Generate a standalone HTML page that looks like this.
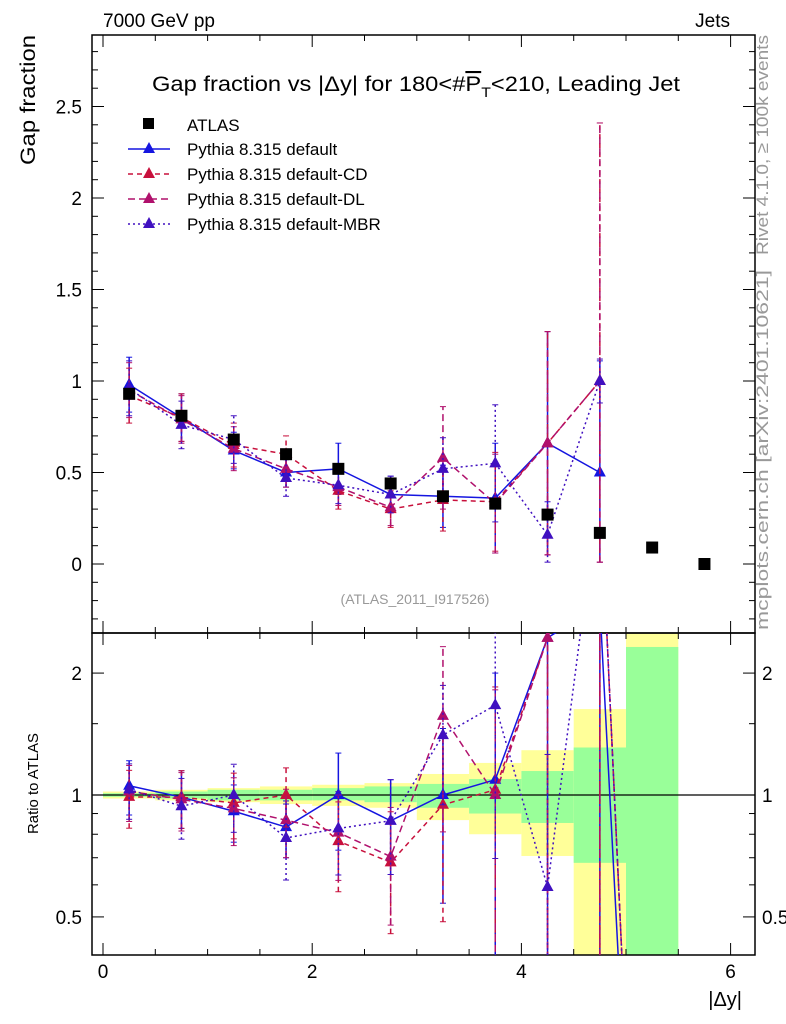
<!DOCTYPE html>
<html><head><meta charset="utf-8"><style>
html,body{margin:0;padding:0;background:#fff;overflow:hidden;width:786px;height:1024px;}
svg{font-family:"Liberation Sans",sans-serif;display:block;}
</style></head><body>
<svg id="c" width="786" height="1024" xmlns="http://www.w3.org/2000/svg">
<defs>
<clipPath id="cm"><rect x="92" y="35" width="663" height="598"/></clipPath>
<clipPath id="cr"><rect x="92" y="633" width="663" height="322"/></clipPath>
</defs>
<g id="bands" clip-path="url(#cr)"></g>
<g id="frames"></g>
<g id="series-main" clip-path="url(#cm)"></g>
<g id="series-ratio" clip-path="url(#cr)"></g>
<text x="103" y="27" font-size="19">7000 GeV pp</text>
<text x="730" y="27" font-size="19" text-anchor="end">Jets</text>
<text x="152" y="91" font-size="21" textLength="528" lengthAdjust="spacingAndGlyphs">Gap fraction vs |Δy| for 180&lt;#<tspan text-decoration="overline">P</tspan><tspan font-size="14" dy="6">T</tspan><tspan dy="-6">&lt;210, Leading Jet</tspan></text>
<text x="415" y="604" font-size="14" fill="#999" text-anchor="middle">(ATLAS_2011_I917526)</text>
<text transform="translate(35,165) rotate(-90)" font-size="21" textLength="130" lengthAdjust="spacingAndGlyphs">Gap fraction</text>
<text transform="translate(38,834) rotate(-90)" font-size="15" textLength="101" lengthAdjust="spacingAndGlyphs">Ratio to ATLAS</text>
<text x="742" y="1006" font-size="20" text-anchor="end">|Δy|</text>
<text transform="translate(768,255) rotate(-90)" font-size="17" fill="#999" textLength="220" lengthAdjust="spacingAndGlyphs">Rivet 4.1.0, ≥ 100k events</text>
<text transform="translate(768,630) rotate(-90)" font-size="17" fill="#999" textLength="360" lengthAdjust="spacingAndGlyphs">mcplots.cern.ch [arXiv:2401.10621]</text>
<g id="legend"></g>
</svg>
<script>
const xCenters=[0.25,0.75,1.25,1.75,2.25,2.75,3.25,3.75,4.25,4.75,5.25,5.75];
const atlasVals=[0.93,0.81,0.68,0.60,0.52,0.44,0.37,0.33,0.27,0.17,0.09,0.00];
const defVals=[0.98,0.80,0.62,0.50,0.52,0.38,0.37,0.36,0.66,0.50];
const defErr=[0.15,0.13,0.10,0.08,0.14,0.10,0.17,0.30,0.61,0.61];
const cdVals=[0.92,0.80,0.65,0.60,0.40,0.30,0.35,0.34,0.66,1.00];
const cdErr=[0.15,0.13,0.12,0.10,0.10,0.10,0.17,0.27,0.61,1.41];
const dlVals=[0.95,0.79,0.63,0.52,0.42,0.31,0.58,0.33,0.66,1.00];
const dlErr=[0.15,0.13,0.12,0.10,0.10,0.10,0.28,0.27,0.61,1.41];
const mbrVals=[0.96,0.76,0.68,0.47,0.43,0.38,0.52,0.55,0.16,1.00];
const mbrErr=[0.15,0.13,0.13,0.10,0.10,0.10,0.17,0.32,0.18,0.12];
const binEdges=[0,0.5,1,1.5,2,2.5,3,3.5,4,4.5,5,5.5];
const greenLo=[0.99,0.98,0.97,0.97,0.97,0.96,0.93,0.90,0.853,0.68,0.1];
const greenHi=[1.01,1.02,1.03,1.03,1.04,1.05,1.065,1.095,1.146,1.31,2.32];
const yellowLo=[0.98,0.97,0.96,0.95,0.94,0.93,0.867,0.80,0.707,0.1,0.1];
const yellowHi=[1.02,1.03,1.04,1.05,1.06,1.07,1.127,1.20,1.29,1.63,3.0];
const mainTicks=[0,0.5,1,1.5,2,2.5];
const ratioTicks=[0.5,1,2];
const xTicks=[0,2,4,6];

const NS="http://www.w3.org/2000/svg";
const X=v=>103+v*104.6;
const YM=v=>564-v*183;
const YR=v=>795-Math.log10(v)*405;
function mk(p,tag,at){const e=document.createElementNS(NS,tag);for(const k in at)e.setAttribute(k,at[k]);p.appendChild(e);return e;}
const bands=document.getElementById('bands');
for(let i=0;i<greenLo.length;i++){
 const x0=X(binEdges[i]),x1=X(binEdges[i+1]);
 let r=mk(bands,'rect',{x:x0,y:YR(yellowHi[i]),width:x1-x0,height:YR(yellowLo[i])-YR(yellowHi[i]),fill:'#ffff99'});
 
 
 r=mk(bands,'rect',{x:x0,y:YR(greenHi[i]),width:x1-x0,height:YR(greenLo[i])-YR(greenHi[i]),fill:'#99ff99'});
 
 
}
const fr=document.getElementById('frames');
mk(fr,'line',{x1:92,x2:755,y1:YR(1),y2:YR(1),stroke:'#000','stroke-width':1.2});
mk(fr,'rect',{x:92,y:35,width:663,height:598,fill:'none',stroke:'#000','stroke-width':1.5});
mk(fr,'rect',{x:92,y:633,width:663,height:322,fill:'none',stroke:'#000','stroke-width':1.5});
for(let v=0;v<=6.01;v+=0.5){const maj=Math.abs(v%2)<0.01;const L=maj?12:6;
 for(const [t,b] of [[35,633],[633,955]]){mk(fr,'line',{x1:X(v),x2:X(v),y1:b,y2:b-L,stroke:'#000'});mk(fr,'line',{x1:X(v),x2:X(v),y1:t,y2:t+L,stroke:'#000'});}}
xTicks.forEach(v=>{const t=mk(fr,'text',{x:X(v),y:978,'font-size':19,'text-anchor':'middle'});t.textContent=v;
 
 });
for(let k=-3;k<=28;k++){const v=k/10;const maj=k%5===0;const L=maj?12:6;const y=YM(v);
 mk(fr,'line',{x1:92,x2:92+L,y1:y,y2:y,stroke:'#000'});mk(fr,'line',{x1:755,x2:755-L,y1:y,y2:y,stroke:'#000'});}
mainTicks.forEach(v=>{const t=mk(fr,'text',{x:82,y:YM(v)+7,'font-size':19,'text-anchor':'end'});t.textContent=v;
 
 });
[0.5,0.6,0.7,0.8,0.9,1,1.5,2].forEach(v=>{const maj=ratioTicks.includes(v);const L=maj?12:6;const y=YR(v);
 mk(fr,'line',{x1:92,x2:92+L,y1:y,y2:y,stroke:'#000'});mk(fr,'line',{x1:755,x2:755-L,y1:y,y2:y,stroke:'#000'});});
ratioTicks.forEach(v=>{let t=mk(fr,'text',{x:82,y:YR(v)+7,'font-size':19,'text-anchor':'end'});t.textContent=v;
 
 
 t=mk(fr,'text',{x:762,y:YR(v)+7,'font-size':19});t.textContent=v;
 
 });

const gm=document.getElementById('series-main'),gr=document.getElementById('series-ratio');
function tri(p,x,y,c){return mk(p,'polygon',{points:`${x},${y-7} ${x-6},${y+4} ${x+6},${y+4}`,fill:c});}
const series=[
 {name:'pythia-default',label:'Pythia 8.315 default',vals:defVals,err:defErr,c:'#1515e0',dash:''},
 {name:'pythia-default-cd',label:'Pythia 8.315 default-CD',vals:cdVals,err:cdErr,c:'#c8103c',dash:'5,4'},
 {name:'pythia-default-dl',label:'Pythia 8.315 default-DL',vals:dlVals,err:dlErr,c:'#b0106c',dash:'7,4'},
 {name:'pythia-default-mbr',label:'Pythia 8.315 default-MBR',vals:mbrVals,err:mbrErr,c:'#4010c0',dash:'2,3'}];
series.forEach(s=>{
 for(const [g,Y,f] of [[gm,YM,(v,i)=>v],[gr,YR,(v,i)=>v/atlasVals[i]]]){
  const grp=mk(g,'g',{});
  
  
  const pts=s.vals.map((v,i)=>X(xCenters[i])+','+Y(Math.max(f(v,i),0.01)));
  if(g===gr){const n=s.vals.length;pts.push(X(xCenters[n])+','+Y(0.01));}
  mk(grp,'polyline',{points:pts.join(' '),fill:'none',stroke:s.c,'stroke-width':1.5,'stroke-dasharray':s.dash});
  s.vals.forEach((v,i)=>{const x=X(xCenters[i]);const lo=Math.max(f(v-s.err[i],i),0.01),hi=f(v+s.err[i],i);
   mk(grp,'line',{x1:x,x2:x,y1:Y(lo),y2:Y(hi),stroke:s.c,'stroke-width':1.5,'stroke-dasharray':s.dash});
   mk(grp,'line',{x1:x-3,x2:x+3,y1:Y(lo),y2:Y(lo),stroke:s.c});mk(grp,'line',{x1:x-3,x2:x+3,y1:Y(hi),y2:Y(hi),stroke:s.c});
   const t=tri(grp,x,Y(Math.max(f(v,i),0.01)),s.c);
   
   });
 }
});
atlasVals.forEach((v,i)=>{const r=mk(gm,'rect',{x:X(xCenters[i])-6,y:YM(v)-6,width:12,height:12,fill:'#000'});
 
 });
const lg=document.getElementById('legend');
mk(lg,'rect',{x:143,y:118,width:11,height:11,fill:'#000'});
let t=mk(lg,'text',{x:187,y:131,'font-size':17});t.textContent='ATLAS';


series.forEach((s,k)=>{const y=149+k*25;
 mk(lg,'line',{x1:128,x2:170,y1:y,y2:y,stroke:s.c,'stroke-width':1.5,'stroke-dasharray':s.dash});
 tri(lg,149,y,s.c);
 const tt=mk(lg,'text',{x:187,y:y+6,'font-size':17});tt.textContent=s.label;
 
 });
</script>
</body></html>
